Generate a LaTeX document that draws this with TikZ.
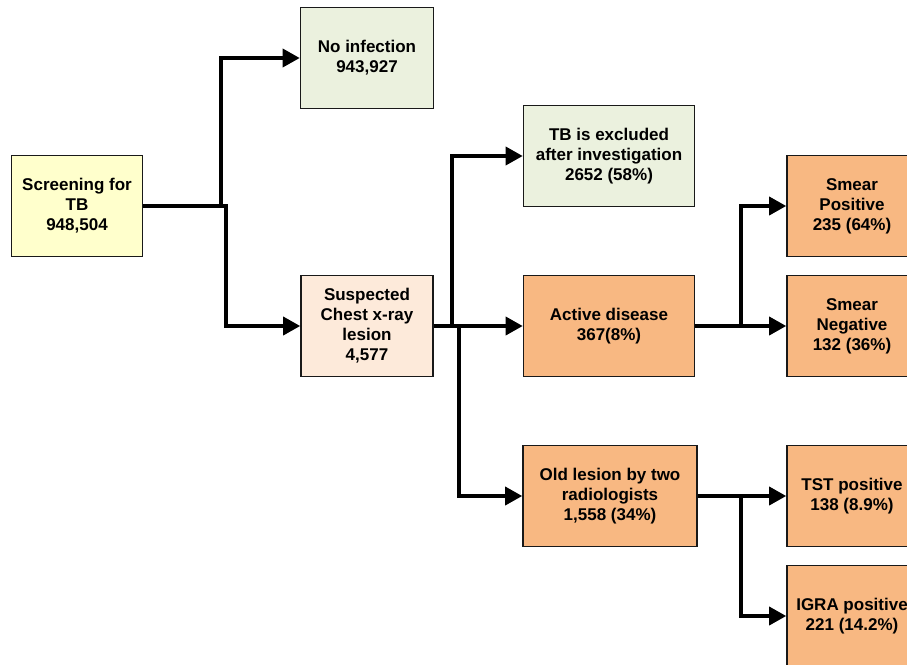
\documentclass[tikz,border=0pt]{standalone}
\usepackage{fontspec}
\setmainfont{Liberation Sans}
\usetikzlibrary{arrows.meta}
\definecolor{screenfill}{RGB}{255,255,204}
\definecolor{greenfill}{RGB}{235,241,222}
\definecolor{peachfill}{RGB}{253,234,218}
\definecolor{orangefill}{RGB}{248,184,130}
\tikzset{
  box/.style={draw=black!90, line width=1.6pt, inner sep=0pt, minimum height=101pt,
    align=center, font=\fontsize{17}{20}\selectfont\bfseries},
  link/.style={line width=3.5pt, -{Triangle[length=17pt,width=18pt]}},
  plain/.style={line width=3.5pt}
}
\begin{document}
\begin{tikzpicture}[x=1pt,y=-1pt]
        \useasboundingbox (0,0) rectangle (907,664);
        % boxes
        \node[box,fill=screenfill,minimum width=131pt] (scr) at (77,206) {Screening for\\TB\\948,504};
        \node[box,fill=greenfill,minimum width=133pt] (noinf) at (367,58) {No infection\\943,927};
        \node[box,fill=peachfill,minimum width=132pt] (susp) at (367,326) {Suspected\\Chest x-ray\\lesion\\4,577};
        \node[box,fill=greenfill,minimum width=171pt] (excl) at (609,156) {TB is excluded\\after investigation\\2652 (58\%)};
        \node[box,fill=orangefill,minimum width=171pt] (active) at (609,326) {Active disease\\367(8\%)};
        \node[box,fill=orangefill,minimum width=174pt] (old) at (610,496) {Old lesion by two\\radiologists\\1,558 (34\%)};
        \node[box,fill=orangefill,minimum width=130pt] (smpos) at (852,206) {Smear\\Positive\\235 (64\%)};
        \node[box,fill=orangefill,minimum width=130pt] (smneg) at (852,326) {Smear\\Negative\\132 (36\%)};
        \node[box,fill=orangefill,minimum width=130pt] (tst) at (852,496) {TST positive\\138 (8.9\%)};
        \node[box,fill=orangefill,minimum width=130pt] (igra) at (852,616) {IGRA positive\\221 (14.2\%)};
        % bends
        \coordinate (b1) at (221,206);
        \coordinate (b2) at (226,206);
        \coordinate (b3) at (452,326);
        \coordinate (b4) at (459,326);
        \coordinate (b5) at (741,326);
        \coordinate (b6) at (741,496);
        % connectors
        \draw[link](scr.east)--(b1)|-(noinf.west);
        \draw[link](scr.east)--(b2)|-(susp.west);
        \draw[link](susp.east)--(b3)|-(excl.west);
        \draw[link](susp.east)--(active.west);
        \draw[link](susp.east)--(b4)|-(old.west);
        \draw[link](active.east)--(b5)|-(smpos.west);
        \draw[link](active.east)--(smneg.west);
        \draw[link](old.east)--(tst.west);
        \draw[link](old.east)--(b6)|-(igra.west);
    \end{tikzpicture}
\end{document}
